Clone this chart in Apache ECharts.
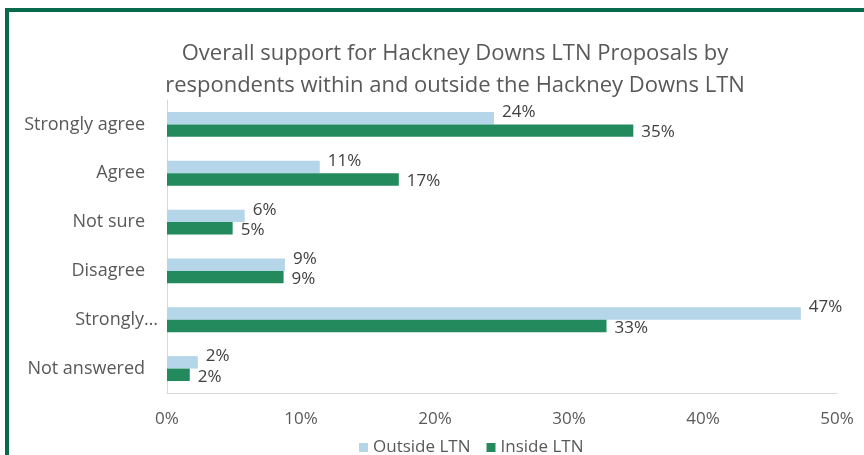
<!DOCTYPE html>
<html>
<head>
<meta charset="utf-8">
<script src="https://cdn.jsdelivr.net/npm/echarts@6/dist/echarts.min.js"></script>
<style>
  html, body { margin: 0; padding: 0; background: #ffffff; }
  #chart { width: 864px; height: 455px; }
</style>
</head>
<body>
<div id="chart"></div>
<script>
// Survey responses, top to bottom
const categories = ['Strongly agree', 'Agree', 'Not sure', 'Disagree', 'Strongly…', 'Not answered'];
// Share of respondents (%) for each group
const outsideLTN = [24.4, 11.4, 5.8, 8.8, 47.3, 2.3];
const insideLTN = [34.8, 17.3, 4.9, 8.7, 32.8, 1.7];
const seriesNames = ['Outside LTN', 'Inside LTN'];
const xTicks = [0, 10, 20, 30, 40, 50];

const FONT = '"Open Sans", "Noto Sans", sans-serif';
const TEXT = '#595959';

const chart = echarts.init(document.getElementById('chart'), null, { renderer: 'canvas' });

const pct = p => Math.round(p.value) + '%';

chart.setOption({
  animation: false,
  backgroundColor: '#ffffff',
  graphic: [{
    type: 'rect',
    shape: { x: 7, y: 10, width: 900, height: 500 },
    style: { fill: 'none', stroke: '#066a4b', lineWidth: 4 },
    silent: true
  }],
  title: {
    text: 'Overall support for Hackney Downs LTN Proposals by\nrespondents within and outside the Hackney Downs LTN',
    left: 450,
    top: 33,
    textAlign: 'center',
    textStyle: { fontFamily: FONT, fontSize: 22, fontWeight: 'normal', color: TEXT, lineHeight: 32 }
  },
  legend: {
    data: seriesNames,
    top: 434,
    left: 354,
    icon: 'rect',
    itemWidth: 9,
    itemHeight: 9,
    itemGap: 16,
    textStyle: { fontFamily: FONT, fontSize: 17, color: TEXT }
  },
  grid: { left: 167, right: 27, top: 100, bottom: 62, containLabel: false },
  xAxis: {
    type: 'value',
    min: xTicks[0],
    max: xTicks[xTicks.length - 1],
    interval: xTicks[1] - xTicks[0],
    axisLine: { show: true, lineStyle: { color: '#d9d9d9', width: 1 } },
    axisTick: { show: false },
    splitLine: { show: false },
    axisLabel: {
      margin: 18,
      fontFamily: FONT, fontSize: 17, color: TEXT,
      formatter: v => v + '%'
    }
  },
  yAxis: {
    type: 'category',
    data: categories,
    inverse: true,
    axisLine: { show: true, lineStyle: { color: '#d9d9d9', width: 1 } },
    axisTick: { show: false },
    axisLabel: {
      margin: 9,
      fontFamily: FONT, fontSize: 18, color: TEXT,
      formatter: v => v === 'Strongly…' ? '{w|' + v + '}' : '{n|' + v + '}',
      rich: {
        n: { fontFamily: FONT, fontSize: 18, color: TEXT, padding: [0, 13, 0, 0] },
        w: { fontFamily: FONT, fontSize: 18, color: TEXT }
      }
    }
  },
  series: [
    {
      name: seriesNames[0],
      type: 'bar',
      data: outsideLTN,
      itemStyle: { color: '#b5d5e9' },
      barGap: '0%',
      barCategoryGap: '49%',
      label: {
        show: true, position: 'right', distance: 8, offset: [0, -6],
        fontFamily: FONT, fontSize: 17, color: '#404040', formatter: pct
      }
    },
    {
      name: seriesNames[1],
      type: 'bar',
      data: insideLTN,
      itemStyle: { color: '#238a5e' },
      barGap: '0%',
      barCategoryGap: '49%',
      label: {
        show: true, position: 'right', distance: 8, offset: [0, 2],
        fontFamily: FONT, fontSize: 17, color: '#404040', formatter: pct
      }
    }
  ]
});
</script>
</body>
</html>
